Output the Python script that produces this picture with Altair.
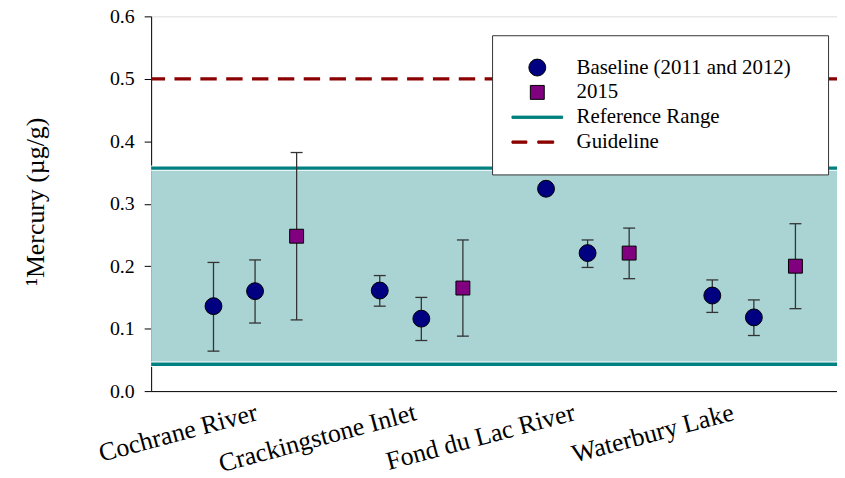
import json
import altair as alt
import pandas as pd

# ---------------- data ----------------
sites = ["Cochrane River", "Crackingstone Inlet", "Fond du Lac River", "Waterbury Lake"]
slot_series = ["Baseline (2011 and 2012)", "Baseline (2011 and 2012)", "2015"]
means = [
    [0.136, 0.160, 0.248],
    [0.161, 0.116, 0.165],
    [0.324, 0.221, 0.221],
    [0.153, 0.118, 0.200],
]
lowers = [
    [0.064, 0.109, 0.114],
    [0.136, 0.081, 0.088],
    [0.318, 0.198, 0.180],
    [0.126, 0.089, 0.132],
]
uppers = [
    [0.206, 0.210, 0.382],
    [0.185, 0.150, 0.242],
    [0.330, 0.242, 0.261],
    [0.178, 0.146, 0.268],
]
ref_range = [0.043, 0.357]
guideline = [0.5]
y_ticks = [0.0, 0.1, 0.2, 0.3, 0.4, 0.5, 0.6]
legend_labels = ["Baseline (2011 and 2012)", "2015", "Reference Range", "Guideline"]

# ---------------- styles ----------------
NAVY = "#000080"
PURPLE = "#800080"
TEAL = "#008080"
BAND = "#aad4d4"
DARKRED = "#8b0000"
FONT = "Liberation Serif"

rows = []
for g, site in enumerate(sites):
    for s in range(3):
        rows.append({
            "site": site,
            "pos": 4 * g + s,
            "series": slot_series[s],
            "mean": means[g][s],
            "lo": lowers[g][s],
            "hi": uppers[g][s],
        })
df = pd.DataFrame(rows)
band_df = pd.DataFrame({"lo": [ref_range[0]], "hi": [ref_range[1]]})
lines_df = pd.DataFrame({"v": ref_range})
guide_df = pd.DataFrame({"v": guideline})

label_pos = [0.95 + 3.82 * g for g in range(len(sites))]
label_expr = f"{json.dumps(sites)}[round((datum.value - 0.95) / 3.82)]"

xscale = alt.Scale(domain=[-1.5, 15], nice=False, zero=False)
yscale = alt.Scale(domain=[0, 0.6], nice=False, zero=True)

x_axis = alt.Axis(
    values=label_pos, labelExpr=label_expr, title=None, ticks=False, grid=False,
    labelAngle=345, labelAlign="right", labelBaseline="top", labelPadding=8,
    labelFont=FONT, labelFontSize=26, labelColor="black", domainColor="black",
    labelOverlap=False, labelBound=False, labelFlush=False, labelLimit=500,
)
y_axis = alt.Axis(
    values=y_ticks, format=".1f", grid=False, tickSize=7, tickColor="black",
    domainColor="black", labelFont=FONT, labelFontSize=20, labelColor="black",
    labelPadding=10, title="\u00b9Mercury (\u00b5g/g)", titleFont=FONT,
    titleFontSize=26, titleFontWeight="normal", titleColor="black",
    titleAngle=270, titleAlign="center", titleBaseline="alphabetic",
    titleX=-108, titleY=186,
)

band = alt.Chart(band_df).mark_rect(color=BAND).encode(
    y=alt.Y("lo:Q", scale=yscale, axis=y_axis), y2="hi:Q"
)
gap_rules = alt.Chart(lines_df).mark_rule(color="white", strokeWidth=5.5).encode(
    y=alt.Y("v:Q", scale=yscale)
)
teal_rules = alt.Chart(lines_df).mark_rule(color=TEAL, strokeWidth=3.4).encode(
    y=alt.Y("v:Q", scale=yscale)
)
guide = alt.Chart(guide_df).mark_rule(
    color=DARKRED, strokeWidth=3.4, strokeDash=[16.5, 9.5], strokeCap="butt"
).encode(y=alt.Y("v:Q", scale=yscale))

err = alt.Chart(df).mark_rule(color="#333333", strokeWidth=1.3).encode(
    x=alt.X("pos:Q", scale=xscale, axis=x_axis),
    y=alt.Y("lo:Q", scale=yscale),
    y2="hi:Q",
)
cap_lo = alt.Chart(df).mark_tick(color="#333333", thickness=1.3, size=12, orient="horizontal", opacity=1).encode(
    x=alt.X("pos:Q", scale=xscale), y=alt.Y("lo:Q", scale=yscale)
)
cap_hi = alt.Chart(df).mark_tick(color="#333333", thickness=1.3, size=12, orient="horizontal", opacity=1).encode(
    x=alt.X("pos:Q", scale=xscale), y=alt.Y("hi:Q", scale=yscale)
)

line_path = "M-3,-0.135H3V0.135H-3Z"
dash_path = "M-3,-0.135H-1.235V0.135H-3Z M0.059,-0.135H1.94V0.135H0.059Z"

leg = alt.Legend(
    title=" ", titleOrient="right", titleFontSize=1, titlePadding=15,
    orient="none", legendX=343, legendY=19, direction="vertical",
    fillColor="white", strokeColor="#333333", padding=22,
    labelFont=FONT, labelFontSize=21, labelColor="black",
    symbolOffset=13, labelOffset=29, rowPadding=3, symbolStrokeWidth=1,
    symbolOpacity=1, labelLimit=400,
)
points = alt.Chart(df).mark_point(filled=True, opacity=1, strokeWidth=1).encode(
    x=alt.X("pos:Q", scale=xscale),
    y=alt.Y("mean:Q", scale=yscale),
    fill=alt.Fill("series:N", scale=alt.Scale(domain=legend_labels, range=[NAVY, PURPLE, TEAL, DARKRED]), legend=leg),
    stroke=alt.Stroke("series:N", scale=alt.Scale(domain=legend_labels, range=["black", "black", TEAL, DARKRED]), legend=leg),
    shape=alt.Shape("series:N", scale=alt.Scale(domain=legend_labels, range=["circle", "square", line_path, dash_path]), legend=leg),
    size=alt.Size("series:N", scale=alt.Scale(type="ordinal", domain=legend_labels, range=[289, 196, 289, 289]), legend=leg),
)

chart = alt.layer(band, gap_rules, teal_rules, guide, err, cap_lo, cap_hi, points).properties(
    width=690, height=377,
    autosize=alt.AutoSizeParams(type="none"),
    padding={"left": 144, "top": 7, "right": 0, "bottom": 85},
).configure_view(stroke="black", strokeWidth=1).configure(font=FONT).configure_axis(
    labelFont=FONT, titleFont=FONT
)

chart.save("out.html", embed_options={"renderer": "svg", "actions": False})
